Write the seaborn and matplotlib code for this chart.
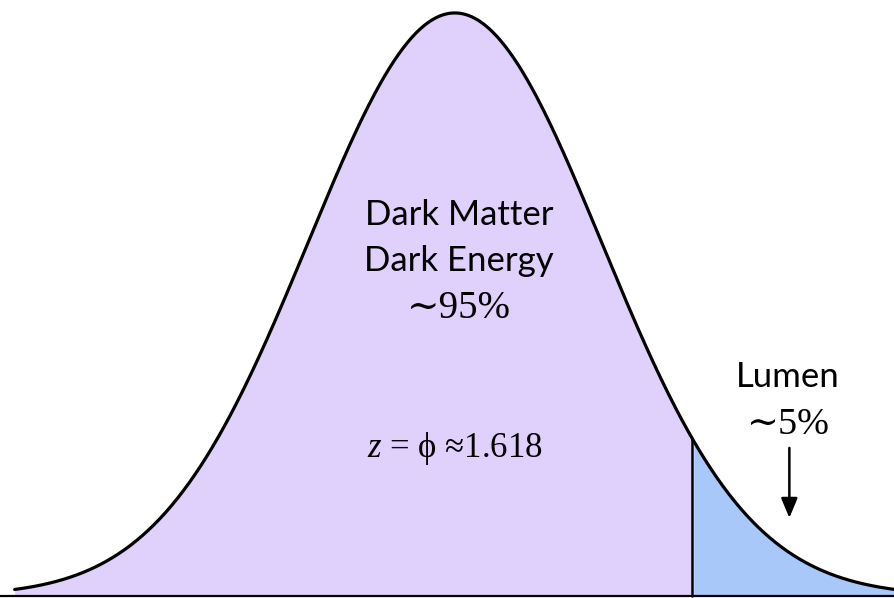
import numpy as np
import pandas as pd
import seaborn as sns
import matplotlib.pyplot as plt

# curve parameters (standard normal) and the split point
mu = 0.0
sigma = 1.0
z_cut = 1.618
x_range = [-3.0, 3.0]

labels_main = ["Dark Matter", "Dark Energy"]
share_main = "\u223c95%"
label_tail = "Lumen"
share_tail = "\u223c5%"
formula = "$z$ = \u03d5 \u22481.618"

fill_main = "#e0d0fc"
fill_tail = "#a8c8fa"

sns.set_style("white")
plt.rcParams['mathtext.fontset'] = 'custom'
plt.rcParams['mathtext.it'] = 'Liberation Serif:italic'
plt.rcParams['mathtext.rm'] = 'Liberation Serif'

x = np.linspace(x_range[0], x_range[1], 600)
pdf = np.exp(-0.5 * ((x - mu) / sigma) ** 2) / (sigma * np.sqrt(2 * np.pi))
df = pd.DataFrame({"x": x, "density": pdf})

fig = plt.figure(figsize=(8.95, 5.98), dpi=100)
ax = fig.add_axes([0, 0, 1, 1])

left = df[df.x <= z_cut]
right = df[df.x >= z_cut]
ax.fill_between(left.x, 0, left.density, color=fill_main, lw=0)
ax.fill_between(right.x, 0, right.density, color=fill_tail, lw=0)
sns.lineplot(data=df, x="x", y="density", color="black", lw=2.3, ax=ax)

y_cut = np.exp(-0.5 * ((z_cut - mu) / sigma) ** 2) / (sigma * np.sqrt(2 * np.pi))
ax.plot([z_cut, z_cut], [0, y_cut], color="black", lw=1.8)
ax.axhline(0, color="black", lw=1.6)

ax.set_xlim(-3.1, 3.0)
ax.set_ylim(-0.0014, 0.4078)
ax.axis("off")

sans = ["Lato", "DejaVu Sans"]
serif = ["Liberation Serif", "DejaVu Serif"]
ax.text(0.03, 0.261, labels_main[0], ha="center", va="center", fontsize=25, family=sans, color="black")
ax.text(0.03, 0.229, labels_main[1], ha="center", va="center", fontsize=25, family=sans, color="black")
ax.text(0.03, 0.197, share_main, ha="center", va="center", fontsize=28, family=serif, color="black")
ax.text(0.0, 0.101, formula, ha="center", va="center", fontsize=25, family=serif, color="black")

ax.text(2.27, 0.150, label_tail, ha="center", va="center", fontsize=25, family=sans, color="black")
ax.text(2.27, 0.117, share_tail, ha="center", va="center", fontsize=27.5, family=serif, color="black")
ax.annotate("", xy=(2.28, 0.0534), xytext=(2.28, 0.1013),
            arrowprops=dict(arrowstyle="-|>,head_length=1.2,head_width=0.5", color="black",
                            lw=1.8, shrinkA=0, shrinkB=0))

plt.savefig("out.png", dpi=100)
